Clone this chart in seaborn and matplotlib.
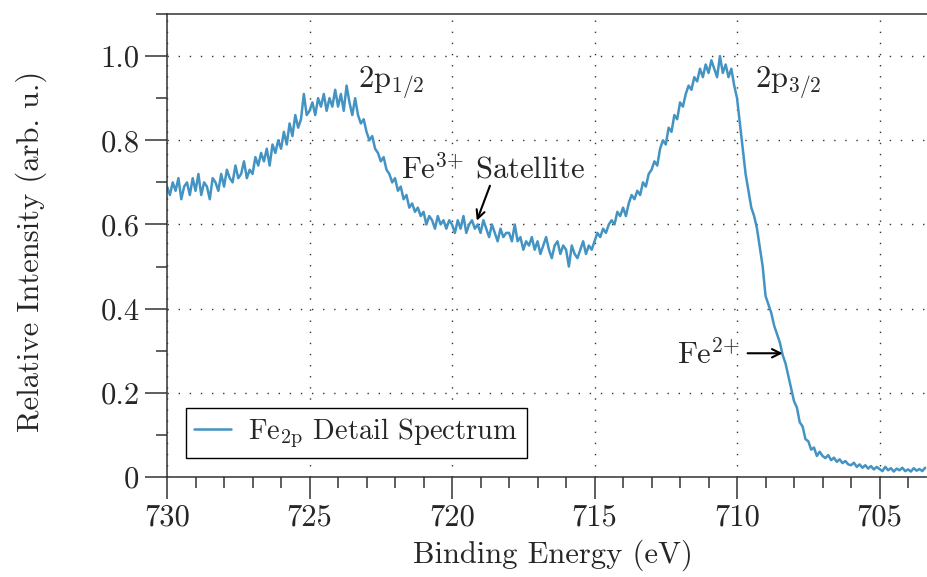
import numpy as np
import matplotlib
matplotlib.use('Agg')
import matplotlib.pyplot as plt
from matplotlib.ticker import MultipleLocator, FuncFormatter
import seaborn as sns

# Fe 2p detail spectrum, 0.1 eV steps from 730.0 to 703.4 eV
energy_start = 730.0
energy_stop = 703.4

# 730.0 - 722.1 eV (2p1/2 region)
intensity_2p12 = [
    0.69, 0.67, 0.70, 0.68, 0.71, 0.66, 0.69, 0.70, 0.67, 0.71,
    0.68, 0.72, 0.67, 0.70, 0.69, 0.66, 0.71, 0.70, 0.68, 0.72,
    0.69, 0.73, 0.71, 0.70, 0.74, 0.71, 0.72, 0.75, 0.71, 0.73,
    0.72, 0.76, 0.74, 0.77, 0.75, 0.78, 0.74, 0.79, 0.77, 0.80,
    0.78, 0.82, 0.79, 0.84, 0.81, 0.86, 0.83, 0.85, 0.91, 0.86,
    0.87, 0.89, 0.86, 0.90, 0.88, 0.91, 0.87, 0.90, 0.88, 0.92,
    0.88, 0.91, 0.87, 0.93, 0.89, 0.86, 0.90, 0.86, 0.84, 0.85,
    0.82, 0.80, 0.81, 0.78, 0.77, 0.75, 0.76, 0.73, 0.72, 0.70,
]
# 722.0 - 714.1 eV (satellite / valley)
intensity_sat = [
    0.71, 0.68, 0.69, 0.66, 0.67, 0.64, 0.65, 0.63, 0.64, 0.62,
    0.63, 0.60, 0.62, 0.61, 0.59, 0.62, 0.60, 0.61, 0.59, 0.61,
    0.60, 0.58, 0.61, 0.59, 0.62, 0.58, 0.60, 0.61, 0.59, 0.60,
    0.58, 0.61, 0.59, 0.57, 0.60, 0.58, 0.56, 0.59, 0.57, 0.58,
    0.58, 0.56, 0.60, 0.56, 0.57, 0.54, 0.56, 0.55, 0.57, 0.54,
    0.56, 0.53, 0.55, 0.57, 0.54, 0.52, 0.55, 0.56, 0.53, 0.55,
    0.54, 0.50, 0.55, 0.53, 0.52, 0.54, 0.56, 0.53, 0.55, 0.54,
    0.56, 0.58, 0.57, 0.59, 0.58, 0.60, 0.61, 0.60, 0.63, 0.62,
]
# 714.0 - 709.1 eV (2p3/2 peak)
intensity_2p32 = [
    0.64, 0.62, 0.65, 0.67, 0.66, 0.68, 0.67, 0.70, 0.69, 0.72,
    0.73, 0.75, 0.74, 0.78, 0.80, 0.79, 0.83, 0.82, 0.86, 0.85,
    0.89, 0.88, 0.91, 0.93, 0.92, 0.95, 0.94, 0.97, 0.95, 0.98,
    0.96, 0.99, 0.97, 0.95, 1.00, 0.96, 0.98, 0.95, 0.97, 0.93,
    0.90, 0.84, 0.78, 0.72, 0.68, 0.64, 0.62, 0.59, 0.545, 0.50,
]
# 709.0 - 703.4 eV (edge and background)
intensity_tail = [
    0.43, 0.41, 0.39, 0.36, 0.34, 0.32, 0.29, 0.27, 0.24, 0.21,
    0.18, 0.165, 0.13, 0.12, 0.09, 0.085, 0.065, 0.07, 0.05, 0.06,
    0.05, 0.045, 0.052, 0.04, 0.046, 0.036, 0.042, 0.033, 0.038, 0.03,
    0.028, 0.034, 0.024, 0.03, 0.022, 0.028, 0.02, 0.026, 0.018, 0.024,
    0.019, 0.014, 0.024, 0.016, 0.021, 0.013, 0.02, 0.016, 0.022, 0.014,
    0.018, 0.013, 0.021, 0.015, 0.019, 0.014, 0.022,
]

intensity = intensity_2p12 + intensity_sat + intensity_2p32 + intensity_tail
energy = np.linspace(energy_start, energy_stop, len(intensity))

sns.set_theme(style='ticks')
plt.rcParams['font.family'] = ['cmr10', 'DejaVu Serif']
plt.rcParams['mathtext.fontset'] = 'cm'
plt.rcParams['axes.formatter.use_mathtext'] = True
plt.rcParams['axes.unicode_minus'] = False

fs = 22
fig = plt.figure(figsize=(9.28, 5.77), dpi=100)
ax = fig.add_axes([0.18, 0.1733, 0.82, 0.8024])

sns.lineplot(x=energy, y=intensity, ax=ax, color='#4393c3', linewidth=1.8,
             label='Fe$_{\\mathrm{2p}}$ Detail Spectrum')

ax.set_xlim(730, 703.3)
ax.set_ylim(0, 1.1)
ax.xaxis.set_major_locator(MultipleLocator(5))
ax.xaxis.set_minor_locator(MultipleLocator(1))
ax.yaxis.set_major_locator(MultipleLocator(0.2))
ax.yaxis.set_minor_locator(MultipleLocator(0.1))
ax.xaxis.set_major_formatter(FuncFormatter(lambda v, p: f'{v:.0f}'))
ax.yaxis.set_major_formatter(FuncFormatter(lambda v, p: '0' if abs(v) < 1e-9 else f'{v:.1f}'))

ax.grid(which='major', color='#333333', linestyle=(0, (1, 7)), linewidth=1.0)
ax.tick_params(which='major', direction='out', length=15.8, width=1.1,
               labelsize=fs, pad=4, color='#333333')
ax.tick_params(which='minor', direction='out', length=7.9, width=1.1, color='#333333')
for side in ['left', 'bottom', 'top']:
    ax.spines[side].set_linewidth(1.1)
    ax.spines[side].set_color('#333333')
ax.spines['right'].set_visible(False)

ax.set_xlabel('Binding Energy (eV)', fontsize=fs)
ax.set_ylabel('Relative Intensity (arb. u.)', fontsize=fs)
ax.xaxis.set_label_coords(0.507, -0.135)
ax.yaxis.set_label_coords(-0.158, 0.487)

ax.text(723.3, 0.924, '2p$_{1/2}$', fontsize=fs, va='baseline')
ax.text(709.38, 0.924, '2p$_{3/2}$', fontsize=fs, va='baseline')
ax.text(721.8, 0.711, 'Fe$^{3{+}}$ Satellite', fontsize=fs, va='baseline')
ax.text(712.12, 0.27, 'Fe$^{2{+}}$', fontsize=fs, va='baseline')

arrow = dict(arrowstyle='->,head_length=0.5,head_width=0.25', color='black', lw=1.5,
             shrinkA=0, shrinkB=0)
ax.annotate('', xy=(719.13, 0.609), xytext=(718.67, 0.692), arrowprops=arrow)
ax.annotate('', xy=(708.4, 0.294), xytext=(709.63, 0.294), arrowprops=arrow)

leg = ax.legend(loc='lower left', fontsize=20.5, handlelength=1.3, borderaxespad=0.65,
                fancybox=False, framealpha=1, edgecolor='black', borderpad=0.3,
                handletextpad=0.6)
leg.get_frame().set_linewidth(1.0)

fig.savefig('out.png', dpi=100)
